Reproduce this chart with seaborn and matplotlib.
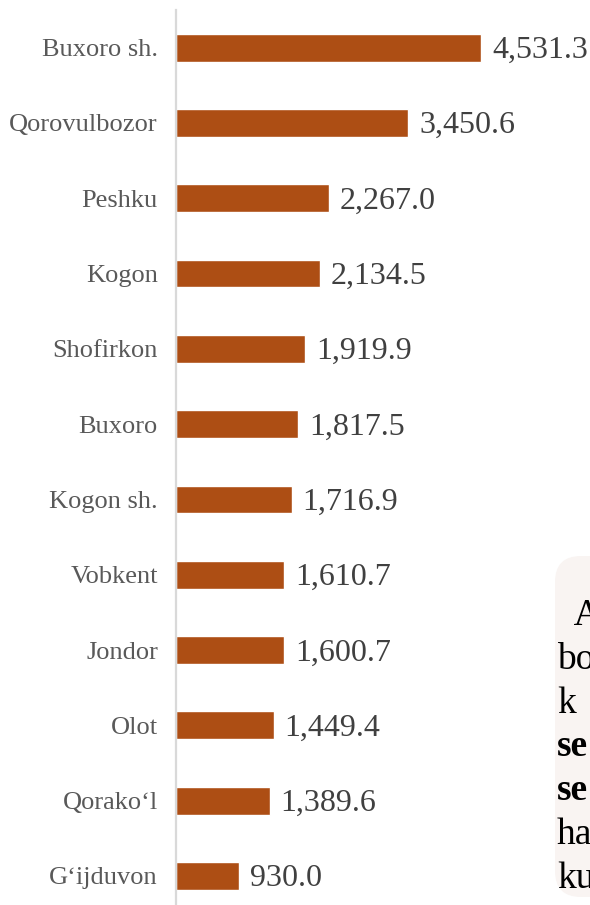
import matplotlib
matplotlib.use("Agg")
import matplotlib.pyplot as plt
import seaborn as sns
import pandas as pd
from matplotlib.patches import FancyBboxPatch

# data
districts = ['Buxoro sh.', 'Qorovulbozor', 'Peshku', 'Kogon', 'Shofirkon', 'Buxoro',
             'Kogon sh.', 'Vobkent', 'Jondor', 'Olot', 'Qorako‘l', 'G‘ijduvon']
values = [4531.3, 3450.6, 2267.0, 2134.5, 1919.9, 1817.5,
          1716.9, 1610.7, 1600.7, 1449.4, 1389.6, 930.0]
box_lines = ['  A', 'bo', 'k', 'se', 'se', 'ha', 'ku']
box_bold = [False, False, False, True, True, False, False]

df = pd.DataFrame({'district': districts, 'value': values})

sns.set_style("white")
plt.rcParams['font.family'] = ['Liberation Serif', 'DejaVu Serif']

W, H = 590, 905
fig = plt.figure(figsize=(W / 100, H / 100), dpi=100)

# bar chart
ax = fig.add_axes([176 / W, 0, 1 - 176 / W, (H - 10) / H])
sns.barplot(data=df, x='value', y='district', orient='h', color='#AD4E14',
            width=0.37, saturation=1, ax=ax)
ax.set_xlim(0, 6150)
ax.set_ylim(11 + 29 / 75.3, -0.5)
ax.set_xlabel('')
ax.set_ylabel('')
ax.set_xticks([])
ax.tick_params(axis='y', length=0, pad=13, labelsize=19, labelcolor='#595959')
for s in ['top', 'right', 'bottom']:
    ax.spines[s].set_visible(False)
ax.spines['left'].set_color('#D9D9D9')
ax.spines['left'].set_linewidth(1.6)

lbls = ax.bar_label(ax.containers[0], labels=[f'{v:,.1f}' for v in values],
                    padding=8, fontsize=23, color='#404040')
for t in lbls:
    x0, _ = t.xyann
    t.xyann = (x0, -2)

# partly visible text box at bottom right
ov = fig.add_axes([0, 0, 1, 1], zorder=5)
ov.set_xlim(0, W)
ov.set_ylim(H, 0)
ov.axis('off')
ov.patch.set_alpha(0)
box = FancyBboxPatch((555, 556), 80, 341, boxstyle='round,pad=0,rounding_size=26',
                     facecolor='#F9F4F2', edgecolor='none')
ov.add_patch(box)
for i, (t, b) in enumerate(zip(box_lines, box_bold)):
    ov.text(557, 625 + i * 43.8, t, fontsize=27, color='black',
            fontweight='bold' if b else 'normal', va='baseline', ha='left')

fig.savefig('out.png', dpi=100)
